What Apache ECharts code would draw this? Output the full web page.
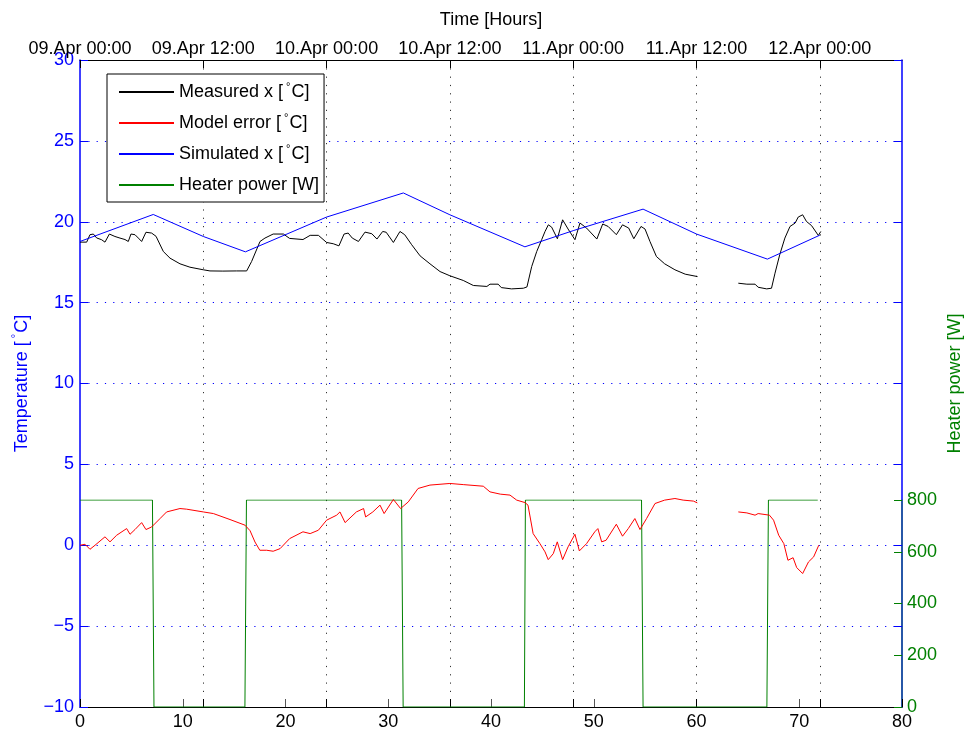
<!DOCTYPE html>
<html>
<head>
<meta charset="utf-8">
<script src="https://cdn.jsdelivr.net/npm/echarts@6/dist/echarts.min.js"></script>
<style>
  html, body { margin: 0; padding: 0; background: #ffffff; }
  #chart { width: 967px; height: 737px; }
</style>
</head>
<body>
<div id="chart"></div>
<script>
// Time-axis tick labels (one every 12 hours)
const timeTickLabels = ['09.Apr 00:00', '09.Apr 12:00', '10.Apr 00:00', '10.Apr 12:00',
  '11.Apr 00:00', '11.Apr 12:00', '12.Apr 00:00'];

// Measured temperature [hours, °C]; null marks the logging gap
const measuredTemp = [
  [0, 18.74], [0.65, 18.74], [0.97, 19.2], [1.3, 19.24], [1.62, 19.0], [2.1, 18.89], [2.43, 18.74],
  [2.86, 19.24], [3.4, 19.09], [3.89, 18.99], [4.38, 18.9], [4.7, 18.78], [4.96, 19.24], [5.35, 19.2],
  [5.68, 18.99], [6.0, 18.78], [6.42, 19.35], [6.97, 19.3], [7.4, 19.1], [8.11, 18.16], [8.76, 17.75],
  [9.73, 17.4], [10.7, 17.19], [12.0, 17.03], [12.65, 16.96], [13.9, 16.95], [15.25, 16.96], [16.22, 16.96],
  [16.7, 17.54], [17.52, 18.78], [18.0, 18.99], [18.8, 19.24], [19.8, 19.24], [20.4, 18.97], [21.7, 18.9],
  [22.4, 19.16], [23.2, 19.16], [24.0, 18.72], [24.65, 18.64], [25.2, 18.51], [25.7, 19.24], [26.1, 19.3],
  [26.5, 18.99], [27.1, 18.78], [27.74, 19.36], [28.4, 19.26], [28.9, 18.93], [29.46, 19.4], [29.8, 19.35],
  [30.5, 18.72], [31.14, 19.4], [31.6, 19.2], [32.28, 18.58], [33.1, 17.89], [34.06, 17.4], [35.04, 16.92],
  [36.0, 16.66], [37.3, 16.37], [38.28, 16.06], [39.6, 16.0], [39.9, 16.14], [40.7, 16.14], [41.0, 15.93],
  [42.0, 15.85], [43.15, 15.89], [43.5, 15.97], [43.96, 17.23], [44.45, 18.16], [44.93, 18.89], [45.26, 19.4],
  [45.58, 19.81], [45.9, 19.67], [46.46, 18.95], [46.97, 20.12], [47.5, 19.55], [48.17, 18.89], [48.66, 19.92],
  [49.3, 19.61], [50.3, 18.93], [50.87, 19.86], [51.4, 19.71], [52.2, 19.2], [52.8, 19.81], [53.4, 19.61],
  [53.9, 18.95], [54.6, 19.71], [54.99, 19.55], [55.47, 18.78], [56.1, 17.85], [56.9, 17.4], [57.9, 17.03],
  [58.9, 16.76], [60.1, 16.61], [62.0, null], [64.07, 16.2], [64.9, 16.14], [65.7, 16.14], [66.0, 15.95],
  [66.83, 15.85], [67.3, 15.89], [67.64, 16.82], [68.1, 17.96], [68.6, 18.99], [69.1, 19.71], [69.6, 19.92],
  [69.9, 20.29], [70.33, 20.43], [70.7, 20.02], [71.2, 19.76], [71.86, 19.15], [72.1, 19.4]
];

// Model error [hours, °C]
const modelError = [
  [0, 0.0], [0.49, 0.06], [0.97, -0.25], [1.46, 0.0], [2.43, 0.52], [2.92, 0.21], [3.57, 0.62], [4.54, 1.03],
  [4.87, 0.68], [5.35, 0.97], [6.0, 1.40], [6.42, 0.97], [6.97, 1.13], [7.79, 1.65], [8.43, 2.06], [9.73, 2.27],
  [10.38, 2.23], [12.0, 2.06], [12.98, 1.96], [14.6, 1.59], [16.06, 1.24], [16.55, 0.9], [17.03, 0.2],
  [17.5, -0.31], [18.17, -0.31], [18.8, -0.37], [19.47, -0.21], [20.4, 0.41], [21.7, 0.83], [22.4, 0.72],
  [23.2, 0.93], [24.0, 1.55], [24.98, 1.86], [25.3, 2.06], [25.8, 1.40], [26.9, 2.06], [27.6, 2.27], [27.8, 1.75],
  [28.5, 2.06], [29.2, 2.48], [29.6, 1.96], [30.5, 2.83], [31.2, 2.27], [31.95, 2.68], [32.9, 3.51], [34.06, 3.72],
  [36.0, 3.82], [37.3, 3.75], [39.25, 3.65], [39.9, 3.30], [40.9, 3.16], [41.85, 3.1], [42.5, 2.79], [43.3, 2.64],
  [43.6, 2.48], [44.1, 0.72], [44.76, 0.1], [45.26, -0.41], [45.57, -0.89], [46.06, -0.52], [46.45, 0.21],
  [46.97, -0.89], [47.5, -0.1], [48.17, 0.68], [48.6, -0.35], [49.3, 0.1], [50.1, 0.83], [50.4, 1.03],
  [50.77, 0.21], [51.2, 0.31], [52.2, 1.30], [52.8, 0.56], [53.36, 1.03], [54.0, 1.65], [54.5, 0.97],
  [55.14, 1.65], [55.96, 2.58], [56.9, 2.79], [57.9, 2.89], [58.7, 2.79], [59.7, 2.73], [60.08, 2.62],
  [62.0, null], [64.07, 2.06], [64.9, 2.0], [65.7, 1.86], [66.0, 1.96], [67.1, 1.86], [67.5, 1.55], [68.0, 0.62],
  [68.5, 0.10], [68.9, -0.93], [69.4, -0.77], [69.75, -1.38], [70.33, -1.75], [70.9, -1.03], [71.4, -0.72],
  [71.9, 0.0]
];

// Simulated temperature [hours, °C]
const simulatedTemp = [
  [0, 18.78], [7.13, 20.45], [12.0, 19.09], [16.1, 18.14], [24.0, 20.29], [31.47, 21.78], [36.0, 20.43],
  [43.3, 18.45], [48.0, 19.45], [54.8, 20.78], [60.0, 19.24], [66.9, 17.69], [72.0, 19.17]
];

// Heater power [hours, W]
const heaterPower = [
  [0, 800], [7.05, 800], [7.2, 0], [16.05, 0], [16.2, 800], [31.3, 800], [31.45, 0], [43.25, 0],
  [43.35, 800], [54.65, 800], [54.8, 0], [66.85, 0], [67.0, 800], [71.8, 800]
];

const toSeriesData = arr => arr.map(([t, v]) => [t, v === null ? '-' : v]);

const FONT = '"Liberation Sans", Arial, Helvetica, sans-serif';
const BLUE = '#0000ff', RED = '#ff0000', GREEN = '#008000', BLACK = '#000000';
const dots = (color) => ({ show: true, lineStyle: { color: color, width: 1, type: [1.2, 7.1] } });
const degRich = {
  s: { fontSize: 11, verticalAlign: 'top', lineHeight: 22, fontFamily: FONT, padding: [0, 1, 0, 3] }
};

const chart = echarts.init(document.getElementById('chart'), null, { renderer: 'canvas' });

chart.setOption({
  animation: false,
  backgroundColor: '#ffffff',
  textStyle: { fontFamily: FONT },
  grid: [
    { left: 80, top: 60, width: 822, height: 647, containLabel: false, outerBoundsMode: 'none' },
    { left: 80, top: 500, width: 822, height: 207, containLabel: false, outerBoundsMode: 'none' }
  ],
  legend: {
    orient: 'vertical',
    left: 107,
    top: 74,
    backgroundColor: '#ffffff',
    borderColor: BLACK,
    borderWidth: 1,
    padding: [7, 5, 6, 11],
    itemGap: 9,
    itemWidth: 55,
    itemHeight: 14,
    selectedMode: false,
    itemStyle: { opacity: 0 },
    data: ['Measured x [°C]', 'Model error [°C]', 'Simulated x [°C]', 'Heater power [W]'],
    formatter: name => name.replace('°', '{s|°}'),
    textStyle: {
      fontSize: 18, color: BLACK, fontFamily: FONT, lineHeight: 22,
      rich: degRich
    }
  },
  xAxis: [
    {
      gridIndex: 0, type: 'value', position: 'bottom', min: 0, max: 80, interval: 10,
      axisLine: { show: true, onZero: false, lineStyle: { color: BLACK, width: 1 } },
      axisTick: { show: true, inside: true, length: 8, lineStyle: { color: '#555555' } },
      axisLabel: { color: BLACK, fontSize: 18, margin: 6, fontFamily: FONT },
      splitLine: { show: false }
    },
    {
      gridIndex: 0, type: 'value', position: 'top', min: 0, max: 80, interval: 12,
      name: 'Time [Hours]', nameLocation: 'middle', nameGap: 31,
      nameTextStyle: { color: BLACK, fontSize: 18, fontFamily: FONT },
      axisLine: { show: true, onZero: false, lineStyle: { color: BLACK, width: 1 } },
      axisTick: { show: true, inside: true, length: 8, lineStyle: { color: BLACK } },
      axisLabel: {
        color: BLACK, fontSize: 18, margin: 2, fontFamily: FONT, showMaxLabel: false,
        formatter: v => (v % 12 === 0 && v / 12 < timeTickLabels.length) ? timeTickLabels[v / 12] : ''
      },
      splitLine: Object.assign(dots('#333333'), { showMinLine: false, showMaxLine: false })
    },
    {
      // bottom ticks at the 12-hour marks
      gridIndex: 0, type: 'value', position: 'bottom', min: 0, max: 80, interval: 12,
      axisLine: { show: false, onZero: false },
      axisTick: { show: true, inside: true, length: 8, lineStyle: { color: BLACK } },
      axisLabel: { show: false },
      splitLine: { show: false }
    },
    {
      gridIndex: 1, type: 'value', min: 0, max: 80, show: false,
      axisLine: { onZero: false }
    }
  ],
  yAxis: [
    {
      gridIndex: 0, type: 'value', position: 'left', min: -10, max: 30, interval: 5,
      name: 'Temperature [{s|°}C]', nameLocation: 'middle', nameGap: 46, nameRotate: 90,
      nameTextStyle: { color: BLUE, fontSize: 18, fontFamily: FONT, lineHeight: 22, rich: degRich },
      axisLine: { show: true, onZero: false, lineStyle: { color: BLUE, width: 1.5 } },
      axisTick: { show: true, inside: true, length: 8, lineStyle: { color: BLUE } },
      axisLabel: {
        color: BLUE, fontSize: 18, margin: 6, fontFamily: FONT,
        formatter: v => (v < 0 ? '\u2212' + Math.abs(v) : String(v))
      },
      splitLine: Object.assign(dots(BLUE), { showMinLine: false, showMaxLine: false })
    },
    {
      gridIndex: 0, type: 'value', position: 'right', min: -10, max: 30, interval: 5,
      name: 'Heater power [W]', nameLocation: 'middle', nameGap: 44, nameRotate: 90,
      nameTextStyle: { color: GREEN, fontSize: 18, fontFamily: FONT },
      axisLine: { show: true, onZero: false, lineStyle: { color: BLUE, width: 1.5 } },
      axisTick: { show: true, inside: true, length: 8, lineStyle: { color: BLUE } },
      axisLabel: { show: false },
      splitLine: { show: false }
    },
    {
      gridIndex: 1, type: 'value', position: 'right', min: 0, max: 800, interval: 200,
      axisLine: { show: true, onZero: false, lineStyle: { color: '#1f5f8a', width: 1.5 } },
      axisTick: { show: true, inside: true, length: 8, lineStyle: { color: GREEN } },
      axisLabel: { color: GREEN, fontSize: 18, margin: 5, fontFamily: FONT },
      splitLine: { show: false }
    }
  ],
  series: [
    {
      name: 'Measured x [°C]', type: 'line', xAxisIndex: 0, yAxisIndex: 0,
      symbol: 'none', connectNulls: false,
      lineStyle: { color: BLACK, width: 1 }, itemStyle: { color: BLACK },
      data: toSeriesData(measuredTemp), z: 4
    },
    {
      name: 'Model error [°C]', type: 'line', xAxisIndex: 0, yAxisIndex: 0,
      symbol: 'none', connectNulls: false,
      lineStyle: { color: RED, width: 1 }, itemStyle: { color: RED },
      data: toSeriesData(modelError), z: 4
    },
    {
      name: 'Simulated x [°C]', type: 'line', xAxisIndex: 0, yAxisIndex: 0,
      symbol: 'none',
      lineStyle: { color: BLUE, width: 1 }, itemStyle: { color: BLUE },
      data: toSeriesData(simulatedTemp), z: 4
    },
    {
      name: 'Heater power [W]', type: 'line', xAxisIndex: 3, yAxisIndex: 2,
      symbol: 'none',
      lineStyle: { color: GREEN, width: 1 }, itemStyle: { color: GREEN },
      data: toSeriesData(heaterPower), z: 3
    }
  ]
});
</script>
</body>
</html>
